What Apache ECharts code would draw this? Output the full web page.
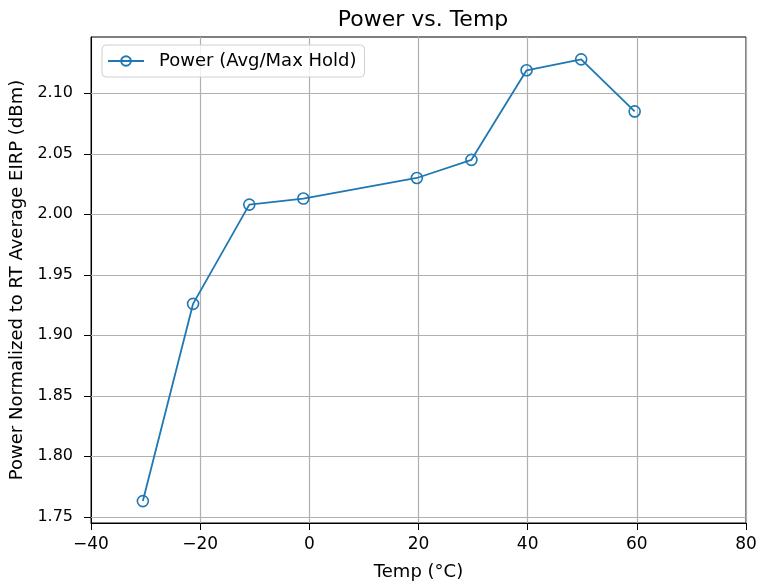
<!DOCTYPE html>
<html>
<head>
<meta charset="utf-8">
<script src="https://cdn.jsdelivr.net/npm/echarts@6/dist/echarts.min.js"></script>
<style>
html,body{margin:0;padding:0;background:#fff;}
#chart{width:758px;height:583px;}
</style>
</head>
<body>
<div id="chart"></div>
<script>
var temps = [-30.5, -21.3, -11.0, -1.1, 19.7, 29.7, 39.8, 49.8, 59.6];
var power = [1.763, 1.926, 2.008, 2.013, 2.030, 2.045, 2.119, 2.128, 2.085];
var yTicks = [1.75, 1.80, 1.85, 1.90, 1.95, 2.00, 2.05, 2.10];
var xTicks = [-40, -20, 0, 20, 40, 60, 80];
var yMin = 1.7449, yMax = 2.1465;
var seriesName = 'Power (Avg/Max Hold)';

var FONT = 'DejaVu Sans';
var chart = echarts.init(document.getElementById('chart'), null, {renderer: 'canvas'});
var gridColor = '#b0b0b0';

var option = {
  animation: false,
  backgroundColor: '#fff',
  title: {
    text: 'Power vs. Temp',
    left: 418, top: 4, textAlign: 'center',
    textStyle: {fontFamily: FONT, fontSize: 22, fontWeight: 'normal', color: '#000'}
  },
  legend: {
    data: [seriesName],
    left: 102, top: 45,
    padding: [7, 8, 7, 5],
    itemWidth: 36, itemHeight: 12,
    borderColor: '#d0d0d0', borderWidth: 1, borderRadius: 4,
    backgroundColor: 'rgba(255,255,255,0.8)',
    textStyle: {fontFamily: FONT, fontSize: 18, color: '#000', padding: [0, 0, 0, 10]}
  },
  grid: {
    left: 91, right: 12, top: 37, bottom: 60,
    containLabel: false, outerBoundsMode: 'none',
    show: true, borderColor: '#000', borderWidth: 1, backgroundColor: 'transparent'
  },
  xAxis: {
    type: 'value', min: xTicks[0], max: xTicks[xTicks.length - 1], interval: 20,
    name: 'Temp (°C)', nameLocation: 'middle', nameGap: 40,
    nameTextStyle: {fontFamily: FONT, fontSize: 18, color: '#000'},
    axisLine: {show: true, onZero: false, lineStyle: {color: '#000', width: 1}},
    axisTick: {show: true, inside: false, length: 7, lineStyle: {color: '#000'}},
    axisLabel: {fontFamily: FONT, fontSize: 17, color: '#000', margin: 13,
      formatter: function (v) { return v < 0 ? '\u2212' + Math.abs(v) : String(v); }},
    splitLine: {show: true, lineStyle: {color: gridColor, width: 1.2}}
  },
  yAxis: {
    type: 'value', min: yMin, max: yMax,
    name: 'Power Normalized to RT Average EIRP (dBm)', nameLocation: 'middle', nameGap: 61,
    nameTextStyle: {fontFamily: FONT, fontSize: 18, color: '#000'},
    axisLine: {show: true, onZero: false, lineStyle: {color: '#000', width: 1}},
    axisTick: {show: true, inside: false, length: 7, lineStyle: {color: '#000'}, customValues: yTicks},
    axisLabel: {fontFamily: FONT, fontSize: 16, color: '#000', margin: 18, customValues: yTicks,
      formatter: function (v) { return v.toFixed(2); }},
    splitLine: {show: false}
  },
  series: [
    {
      type: 'line', name: '_grid', data: [], silent: true, z: 1,
      markLine: {
        silent: true, symbol: ['none', 'none'], animation: false, z: 1,
        label: {show: false},
        lineStyle: {color: gridColor, width: 1.2, type: 'solid'},
        emphasis: {disabled: true},
        data: yTicks.map(function (t) { return {yAxis: t}; })
      }
    },
    {
      type: 'line', name: seriesName, z: 3,
      data: temps.map(function (t, i) { return [t, power[i]]; }),
      symbol: 'circle', symbolSize: 11, showAllSymbol: true,
      itemStyle: {color: 'rgba(0,0,0,0)', borderColor: '#1f77b4', borderWidth: 1.6},
      lineStyle: {color: '#1f77b4', width: 1.8},
      color: '#1f77b4'
    }
  ]
};
chart.setOption(option);
</script>
</body>
</html>
